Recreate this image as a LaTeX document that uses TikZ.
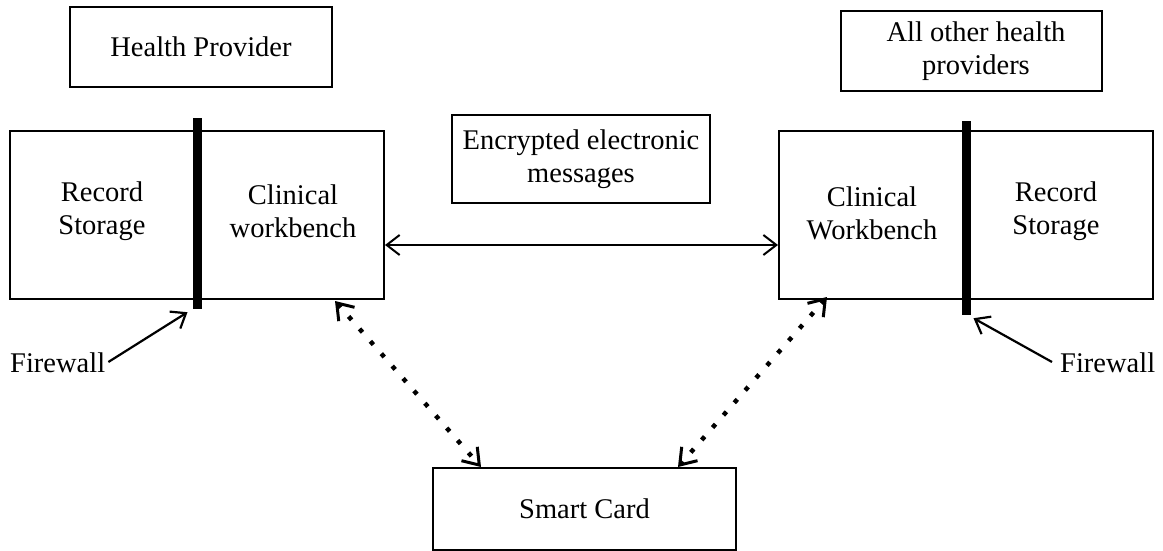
\documentclass[tikz,border=0pt]{standalone}
\usepackage{fontspec}
\setmainfont{Liberation Serif}
\usetikzlibrary{arrows.meta}
\begin{document}
\begin{tikzpicture}[x=1pt,y=-1pt,
  every node/.style={font=\fontsize{28.5}{33}\selectfont, inner sep=0pt, align=center},
  boxnode/.style={draw, line width=2pt, rectangle},
  barnode/.style={fill=black, draw=none, rectangle, minimum width=9pt},
  conn/.style={line width=2pt, {Straight Barb[length=13pt,width=20pt]}-{Straight Barb[length=13pt,width=20pt]}},
  dotconn/.style={line width=4.5pt, dash pattern=on 4.5pt off 12pt,
     {Straight Barb[length=15pt,width=21pt,line width=3pt]}-{Straight Barb[length=15pt,width=21pt,line width=3pt]}},
  onearrow/.style={line width=2.2pt, -{Straight Barb[length=13pt,width=20pt]}}
]
\useasboundingbox (0,0) rectangle (1163,551);

% top boxes
\node[boxnode, minimum width=262pt, minimum height=80pt] (hp) at (201,47) {Health Provider};
\node[boxnode, minimum width=261pt, minimum height=80pt] (aop) at (971.5,51) {\hspace*{9pt}All other health\\\hspace*{9pt}providers};

% big boxes
\node[boxnode, minimum width=374pt, minimum height=168pt] (lbox) at (197,215) {};
\node[boxnode, minimum width=374pt, minimum height=168pt] (rbox) at (966,215) {};

% firewalls bars
\node[barnode, minimum height=191pt] (lbar) at (197.5,213.5) {};
\node[barnode, minimum height=194pt] (rbar) at (966.5,218) {};

% inner texts
\node (lrs) at (102,211) {Record\\Storage};
\node (lcw) at (293,211) {Clinical\\workbench};
\node (rcw) at (872,213) {Clinical\\Workbench};
\node (rrs) at (1056,211) {Record\\Storage};

% encrypted messages
\node[boxnode, minimum width=258pt, minimum height=88pt] (enc) at (581,159) {Encrypted electronic\\messages};

% smart card
\node[boxnode, minimum width=303pt, minimum height=82pt] (card) at (584.5,509) {Smart Card};

% firewall labels
\node[anchor=west] (lfw) at (10,363) {Firewall};
\node[anchor=west] (rfw) at (1060,363) {Firewall};

% connectors
\draw[conn] ([yshift=-30pt]lbox.east) -- ([yshift=-30pt]rbox.west);
\draw[dotconn] ([xshift=138pt,yshift=-1pt]lbox.south) -- ([xshift=49pt]card.north west);
\draw[dotconn] ([xshift=49pt,yshift=3pt]rbox.south west) -- ([xshift=-59pt]card.north east);
\draw[onearrow] ([xshift=3pt,yshift=1pt]lfw.east) -- ([xshift=-10pt,yshift=-3pt]lbar.south);
\draw[onearrow] ([xshift=-8pt,yshift=1pt]rfw.west) -- ([xshift=7pt,yshift=-3pt]rbar.south);
\end{tikzpicture}
\end{document}
